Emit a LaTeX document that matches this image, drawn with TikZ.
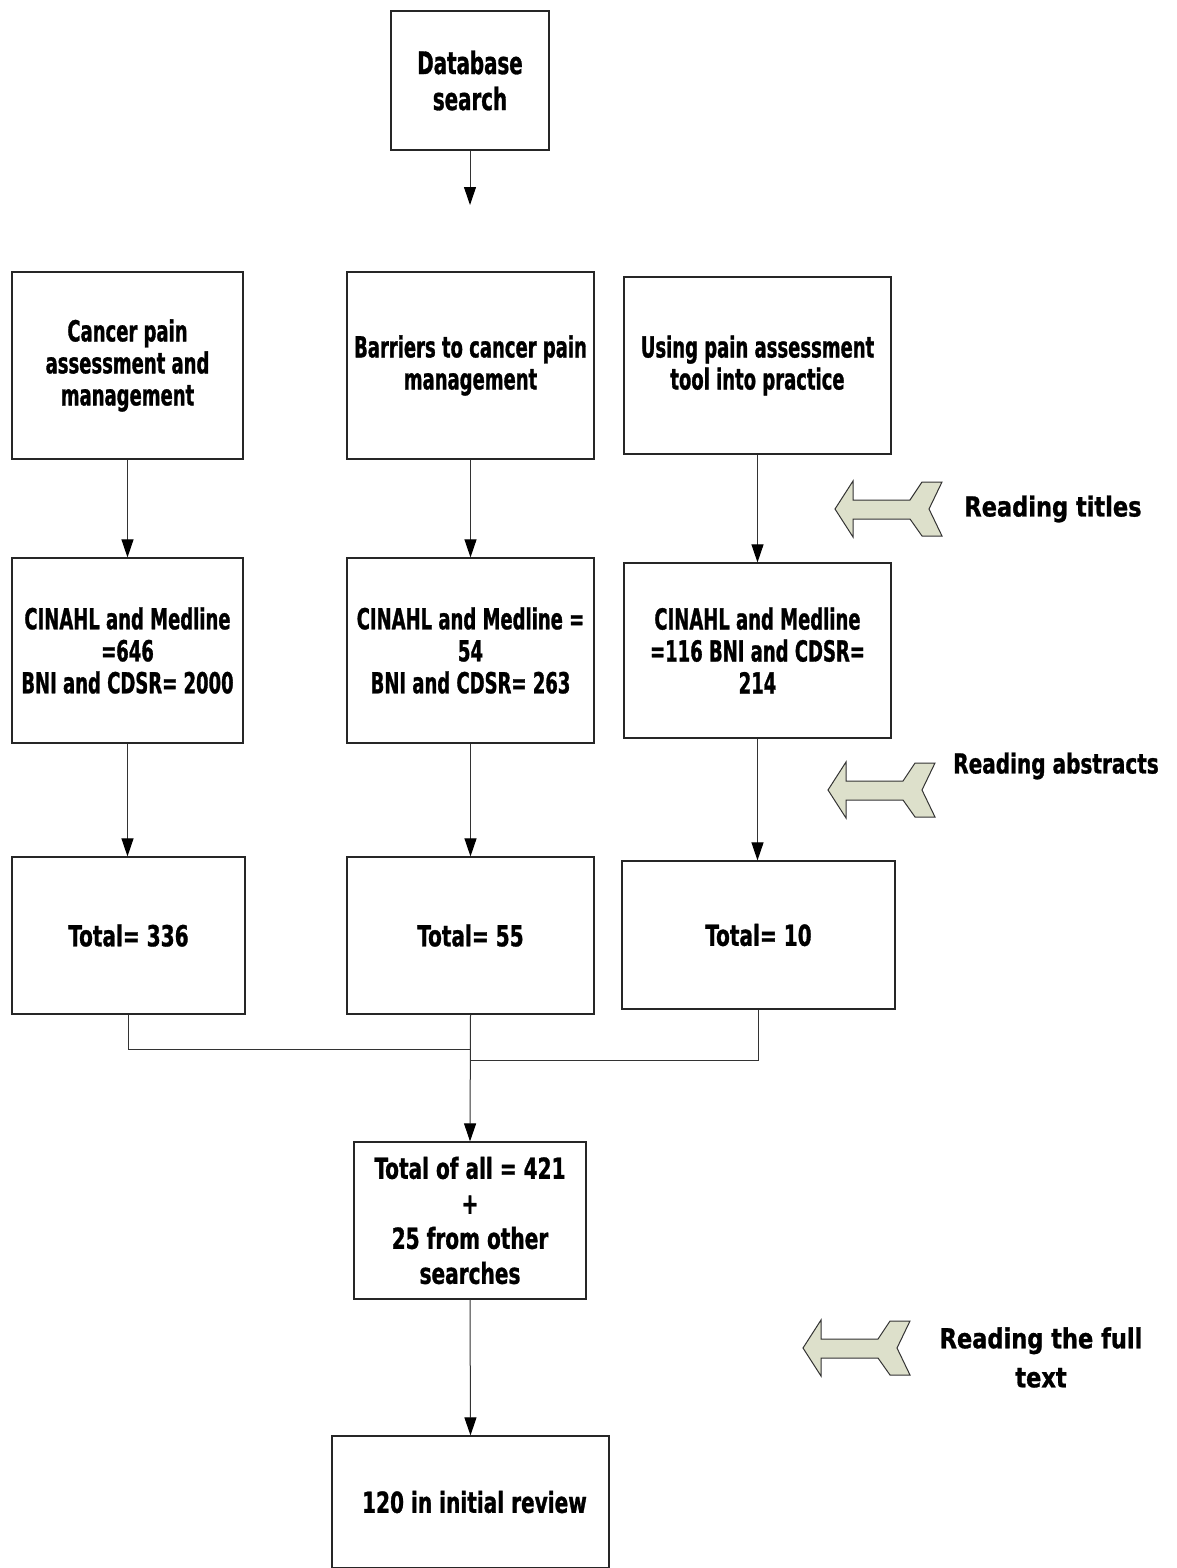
\documentclass[tikz,border=0pt]{standalone}
\usepackage{fontspec}
\setmainfont{DejaVu Sans Condensed}[BoldFont={DejaVu Sans Condensed Bold}]
% narrow heavy faces for the box texts and the stage labels
\newfontfamily\topicface{DejaVu Sans Condensed Bold}[FakeStretch=0.69, FakeBold=1]
\newfontfamily\countface{DejaVu Sans Condensed Bold}[FakeStretch=0.77, FakeBold=1]
\newfontfamily\titleface{DejaVu Sans Condensed Bold}[FakeStretch=0.71, FakeBold=1]
\newfontfamily\stageface{DejaVu Sans Condensed Bold}[FakeStretch=0.91, FakeBold=1]
\newfontfamily\stagenarrow{DejaVu Sans Condensed Bold}[FakeStretch=0.81, FakeBold=1]
\usetikzlibrary{arrows.meta}
\definecolor{stagefill}{RGB}{221,224,203}
\begin{document}
\begin{tikzpicture}[x=1pt,y=-1pt,
  box/.style={draw=black!85, line width=1.2pt, align=center, inner sep=0pt,
    font=\topicface\fontsize{29}{32}\selectfont},
  countbox/.style={box, font=\countface\fontsize{29}{35}\selectfont},
  link/.style={draw=black!80, line width=1pt},
  arr/.style={link, -{Triangle[length=18pt,width=12pt,color=black]}},
  stage/.style={draw=black!80, line width=1pt, fill=stagefill},
  stagelbl/.style={font=\stageface\fontsize{27.5}{39}\selectfont, align=center},
  stagearrow/.pic={\draw[stage] (0,0) -- (18,-28) -- (18,-9) -- (75,-9) -- (87,-27)
    -- (107,-27) -- (94,0) -- (107,27) -- (87,27) -- (75,10) -- (18,10) -- (18,28) -- cycle;}]
\useasboundingbox (0,0) rectangle (1177,1568);

% search start
\node[box, minimum width=158, minimum height=139, font=\titleface\fontsize{31}{36}\selectfont]
  (db) at (470,80.5) {Database\\search};
\coordinate (dbend) at (470,205);
\draw[arr] (db) -- (dbend);

% search topics
\node[box, minimum width=231, minimum height=187] (a1) at (127.5,365.5)
  {Cancer pain\\assessment and\\management};
\node[box, minimum width=247, minimum height=187] (b1) at (470.5,365.5)
  {Barriers to cancer pain\\management};
\node[box, minimum width=267, minimum height=177] (c1) at (757.5,365.5)
  {Using pain assessment\\tool into practice};

% hits per database
\node[box, minimum width=231, minimum height=185] (a2) at (127.5,650.5)
  {CINAHL and Medline\\=646\\BNI and CDSR= 2000};
\node[box, minimum width=247, minimum height=185] (b2) at (470.5,650.5)
  {CINAHL and Medline =\\54\\BNI and CDSR= 263};
\node[box, minimum width=267, minimum height=175] (c2) at (757.5,650.5)
  {CINAHL and Medline\\=116 BNI and CDSR=\\214};

% totals after titles and abstracts
\node[countbox, minimum width=233, minimum height=157] (a3) at (128.5,935.5) {Total= 336};
\node[countbox, minimum width=247, minimum height=157] (b3) at (470.5,935.5) {Total= 55};
\node[countbox, minimum width=273, minimum height=148] (c3) at (758.5,935) {Total= 10};

% merged set and final review
\node[countbox, minimum width=232, minimum height=157]
  (tot) at (470,1220.5) {Total of all = 421\\+\\25 from other\\searches};
\node[countbox, minimum width=277, minimum height=132]
  (fin) at (470.5,1502) {\hspace*{8pt}120 in initial review};

% connectors
\draw[arr] (a1.south) -- (a2.north);
\draw[arr] (b1.south) -- (b2.north);
\draw[arr] (c1.south) -- (c2.north);
\draw[arr] (a2.south) -- (a2.south |- a3.north);
\draw[arr] (b2.south) -- (b3.north);
\draw[arr] (c2.south) -- (c2.south |- c3.north);
\coordinate (j1) at (470.5,1049);
\coordinate (j2) at (470.5,1060);
\draw[link] (a3.south) |- (j1);
\draw[link] (c3.south) |- (j2);
\draw[arr] (b3.south) -- (tot.north);
\draw[arr] (tot.south) -- (fin.north);

% screening stages
\pic at (835,509) {stagearrow};
\pic at (828,790) {stagearrow};
\pic at (803,1348) {stagearrow};
\node[stagelbl] (s1) at (1053,509) {Reading titles};
\node[stagelbl, font=\stagenarrow\fontsize{27.5}{39}\selectfont] (s2) at (1056,766) {Reading abstracts};
\node[stagelbl] (s3) at (1041,1357.5) {Reading the full\\text};
\end{tikzpicture}
\end{document}
